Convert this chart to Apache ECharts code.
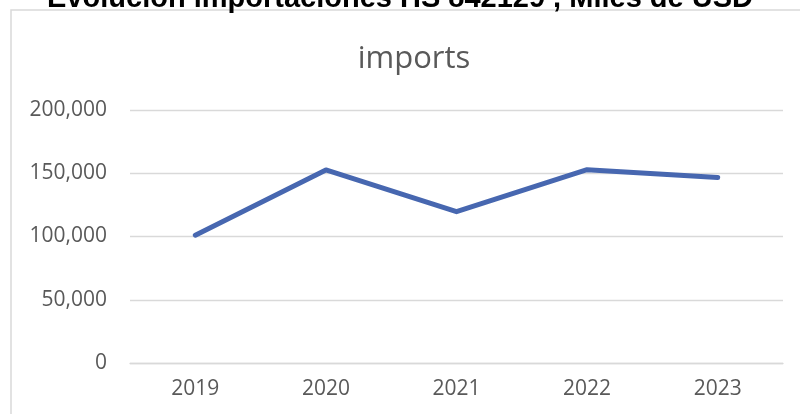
<!DOCTYPE html>
<html>
<head>
<meta charset="utf-8">
<script src="https://cdn.jsdelivr.net/npm/echarts@6/dist/echarts.min.js"></script>
<style>
html,body{margin:0;padding:0;background:#fff;}
#chart{width:800px;height:414px;}
</style>
</head>
<body>
<div id="chart"></div>
<script>
const pageTitle = 'Evolución importaciones HS 842129 , Miles de USD';
const chartTitle = 'imports';
const years = ['2019', '2020', '2021', '2022', '2023'];
const imports = [101000, 152600, 119600, 152800, 146600];
const yTicks = [0, 50000, 100000, 150000, 200000];

const chart = echarts.init(document.getElementById('chart'), null, {renderer: 'canvas'});
chart.setOption({
  animation: false,
  backgroundColor: '#ffffff',
  title: [
    {
      text: pageTitle,
      left: 'center',
      top: -21,
      textStyle: {fontFamily: 'Liberation Sans, Arial', fontWeight: 'bold', fontSize: 29, color: '#000000'}
    },
    {
      text: chartTitle,
      left: 409, textAlign: 'center',
      top: 39,
      textStyle: {fontFamily: 'Open Sans', fontWeight: 'normal', fontSize: 31, color: '#595959'}
    }
  ],
  graphic: [{
    type: 'rect',
    shape: {x: 11, y: 10, width: 820, height: 430},
    style: {fill: 'none', stroke: '#d9d9d9', lineWidth: 1.5},
    silent: true, z: -1
  }],
  grid: {left: 130, right: 17, top: 110, bottom: 51, containLabel: false},
  xAxis: {
    type: 'category',
    data: years,
    boundaryGap: true,
    axisLine: {show: true, lineStyle: {color: '#d9d9d9', width: 1.3}},
    axisTick: {show: false},
    axisLabel: {fontFamily: 'Open Sans', fontSize: 21, color: '#595959', margin: 16}
  },
  yAxis: {
    type: 'value',
    min: yTicks[0], max: yTicks[yTicks.length - 1], interval: yTicks[1] - yTicks[0],
    axisLine: {show: false},
    axisTick: {show: false},
    splitLine: {lineStyle: {color: '#d9d9d9', width: 1.3}},
    axisLabel: {
      fontFamily: 'Open Sans', fontSize: 21, color: '#595959', margin: 23,
      formatter: v => v.toLocaleString('en-US')
    }
  },
  series: [{
    type: 'line',
    data: imports,
    showSymbol: false,
    symbol: 'none',
    lineStyle: {color: '#4767b0', width: 5, cap: 'round', join: 'round'},
    itemStyle: {color: '#4767b0'}
  }]
});
</script>
</body>
</html>
